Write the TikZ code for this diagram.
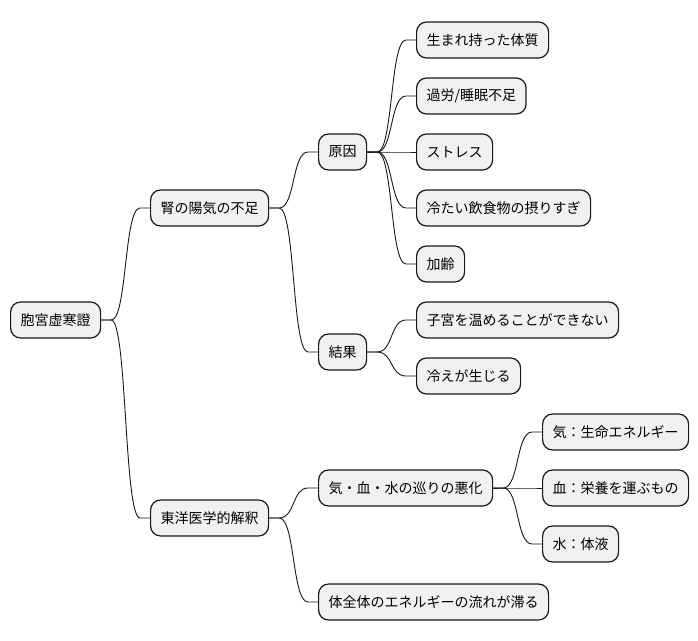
\documentclass[tikz,border=0pt]{standalone}
\usepackage{fontspec}
\setmainfont{Noto Sans CJK JP}
\definecolor{nodefill}{HTML}{F1F1F1}
\definecolor{nodeline}{HTML}{181818}
\usetikzlibrary{positioning}
% one branch of the map: stub, s-curve, stub
\newcommand{\branch}[2]{\draw[link] (#1.east) -- ++(10,0) .. controls +(16,0) and +(-16,0) .. ([xshift=-10pt]#2.west) -- (#2.west);}

\begin{document}
\begin{tikzpicture}[x=1pt,y=-1pt,
    idea/.style={draw=nodeline,line width=1.2pt,rounded corners=10pt,fill=nodefill,anchor=west,
      minimum height=36pt,inner xsep=10pt,font=\fontsize{14pt}{16pt}\selectfont},
    link/.style={nodeline,line width=0.9pt}]
    \useasboundingbox (0,0) rectangle (698,640);
    \node[idea] (root) at (10,320) {胞宮虚寒證};
    \node[idea] (yang) at (150,208) {腎の陽気の不足};
    \node[idea] (east) at (150,518) {東洋医学的解釈};
    \node[idea] (cause) at (318,152) {原因};
    \node[idea] (result) at (318,352) {結果};
    \node[idea] (c1) at (416,40) {生まれ持った体質};
    \node[idea] (c2) at (416,96) {過労/睡眠不足};
    \node[idea] (c3) at (416,152) {ストレス};
    \node[idea] (c4) at (416,208) {冷たい飲食物の摂りすぎ};
    \node[idea] (c5) at (416,264) {加齢};
    \node[idea] (r1) at (416,320) {子宮を温めることができない};
    \node[idea] (r2) at (416,376) {冷えが生じる};
    \node[idea] (flow) at (318,488) {気・血・水の巡りの悪化};
    \node[idea] (stag) at (318,602) {体全体のエネルギーの流れが滞る};
    \node[idea] (ki) at (542,432) {気：生命エネルギー};
    \node[idea] (ketsu) at (542,488) {血：栄養を運ぶもの};
    \node[idea] (sui) at (542,544) {水：体液};
    \branch{root}{yang} \branch{root}{east}
    \branch{yang}{cause} \branch{yang}{result}
    \foreach \n in {c1,c2,c3,c4,c5} {\branch{cause}{\n}}
    \branch{result}{r1} \branch{result}{r2}
    \branch{east}{flow} \branch{east}{stag}
    \foreach \n in {ki,ketsu,sui} {\branch{flow}{\n}}
\end{tikzpicture}
\end{document}
